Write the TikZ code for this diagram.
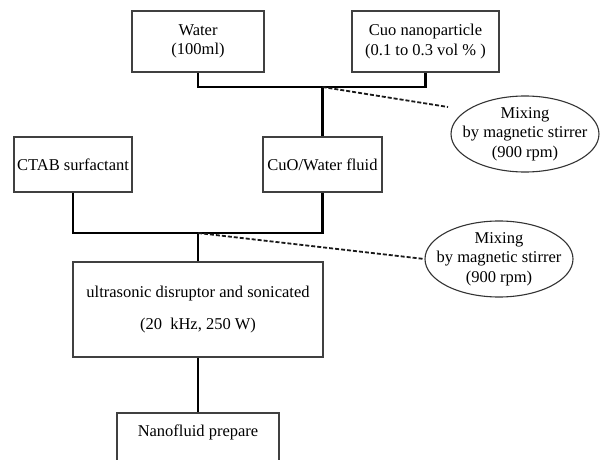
\documentclass[tikz,border=0pt]{standalone}
\usepackage{fontspec}
\setmainfont{Liberation Serif}
\usetikzlibrary{shapes.geometric}
\begin{document}
\begin{tikzpicture}[x=1pt,y=-1pt,
  every node/.style={font=\fontsize{16.5}{19.5}\selectfont, align=center, inner sep=0pt},
  box/.style={draw=black!75, line width=1.2pt, rectangle},
  oval/.style={draw=black!80, line width=1.1pt, ellipse, inner xsep=-10pt, inner ysep=-1pt},
  conn/.style={line width=2.6pt, black},
  dashline/.style={line width=1.8pt, black!90, dash pattern=on 4pt off 2pt}]
\useasboundingbox (0,0) rectangle (603,460);
\node[box, minimum width=132, minimum height=61] (water) at (198,41.5) {Water\\(100ml)};
\node[box, minimum width=147, minimum height=61] (cuo) at (425.5,41.5) {Cuo nanoparticle\\(0.1 to 0.3 vol \% )};
\node[box, minimum width=118, minimum height=55] (ctab) at (73,164.5) {CTAB surfactant};
\node[box, minimum width=119, minimum height=55] (cw) at (322.5,164.5) {CuO/Water fluid};
\node[box, minimum width=250, minimum height=95] (sonic) at (198,309.5) {ultrasonic disruptor and sonicated\\[12pt](20~~kHz, 250 W)};
\node[box, minimum width=162, minimum height=50, text depth=14pt] (nf) at (198,438) {Nanofluid prepare};
\node[oval, minimum width=144, minimum height=76] (mix1) at (525,134) {Mixing\\by magnetic stirrer\\(900 rpm)};
\node[oval, minimum width=148, minimum height=76] (mix2) at (499,259) {Mixing\\by magnetic stirrer\\(900 rpm)};
\coordinate (j1) at (322.5,87);
\coordinate (j2) at (198,233);
\coordinate (d1) at (448,107);
\draw[conn] (water.south) |- (j1) -| (cuo.south);
\draw[conn] (j1) -- (cw.north);
\draw[conn] (ctab.south) |- (j2) -| (cw.south);
\draw[conn] (j2) -- (sonic.north);
\draw[conn] (sonic.south) -- (nf.north);
\draw[dashline] (j1) -- (d1);
\draw[dashline] (j2) -- (mix2.west);
\end{tikzpicture}
\end{document}
